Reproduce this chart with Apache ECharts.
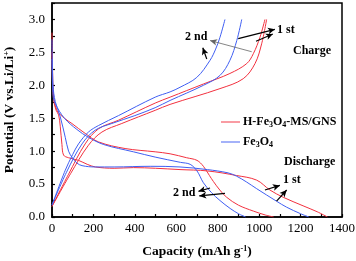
<!DOCTYPE html>
<html><head><meta charset="utf-8">
<script src="https://cdn.jsdelivr.net/npm/echarts@6/dist/echarts.min.js"></script>
<style>html,body{margin:0;padding:0;background:#fff}#c{width:356px;height:261px}</style>
</head><body><div id="c"></div>
<script>
// ---- data ----
const xTicks = [0, 200, 400, 600, 800, 1000, 1200, 1400];
const yTicks = [0.0, 0.5, 1.0, 1.5, 2.0, 2.5, 3.0];
const seriesNames = ['H-Fe3O4-MS/GNS', 'Fe3O4'];

// H-Fe3O4-MS/GNS discharge / charge
const redDis1 = [[0,2.8],[3,2.2],[8,1.78],[20,1.62],[32,1.55],[40,1.37],[48,1.1],[56,0.94],[80,0.9],[128,0.86],[170,0.8],[209,0.76],[300,0.74],[393,0.75],[500,0.74],[618,0.72],[750,0.7],[891,0.63],[988,0.56],[1052,0.41],[1116,0.3],[1212,0.17],[1280,0.08],[1330,0.0]];
const redDis2 = [[0,2.5],[5,1.9],[24,1.62],[60,1.5],[96,1.42],[160,1.27],[225,1.14],[353,1.04],[498,0.99],[570,0.96],[650,0.9],[700,0.86],[731,0.77],[760,0.63],[779,0.54],[810,0.41],[843,0.3],[900,0.18],[972,0.09],[1030,0.03],[1070,0.0]];
const redChg1 = [[0,0.16],[90,0.66],[176,1.09],[241,1.29],[337,1.42],[498,1.62],[570,1.71],[811,1.95],[923,2.1],[980,2.33],[1012,2.63],[1036,3.0]];
const redChg2 = [[0,0.16],[80,0.65],[160,1.11],[225,1.34],[321,1.47],[498,1.73],[570,1.82],[731,2.02],[859,2.18],[940,2.33],[972,2.48],[1004,2.73],[1028,3.0]];
// Fe3O4 discharge / charge
const blueDis1 = [[0,2.7],[5,2.0],[16,1.75],[40,1.52],[64,1.21],[80,1.0],[96,0.91],[120,0.82],[145,0.78],[209,0.76],[300,0.76],[474,0.77],[618,0.76],[750,0.72],[850,0.67],[891,0.62],[940,0.53],[988,0.43],[1084,0.24],[1132,0.15],[1200,0.05],[1240,0.0]];
const blueDis2 = [[0,2.4],[5,1.85],[16,1.72],[60,1.5],[120,1.33],[176,1.21],[250,1.1],[393,0.99],[498,0.91],[620,0.83],[667,0.8],[700,0.7],[731,0.52],[770,0.37],[811,0.25],[860,0.13],[900,0.05],[935,0.0]];
const blueChg1 = [[0,0.18],[70,0.68],[145,1.11],[209,1.32],[289,1.42],[400,1.54],[498,1.66],[570,1.77],[731,2.0],[811,2.15],[859,2.38],[892,2.68],[916,3.0]];
const blueChg2 = [[0,0.18],[64,0.71],[100,0.95],[128,1.11],[176,1.29],[225,1.39],[321,1.54],[498,1.82],[570,1.9],[618,1.97],[699,2.12],[763,2.38],[790,2.55],[811,2.73],[835,3.0]];

// annotation arrows [from, to] in data units
const arrows = [
  [[899,2.71],[1076,2.85],'#000',1.2],
  [[985,2.67],[1066,2.78],'#000',1.2],
  [[964,2.51],[763,2.68],'#666',0.8],
  [[747,2.40],[728,2.57],'#000',1.2],
  [[1028,0.41],[1100,0.48],'#000',1.2],
  [[1084,0.24],[1133,0.41],'#000',1.2],
  [[763,0.44],[707,0.39],'#000',1.2],
  [[835,0.36],[711,0.32],'#000',1.2]
];

const RED = '#f2303e', BLUE = '#3f5ef2';
const FONT = 'Liberation Serif';

function line(name, data, color, extra) {
  return Object.assign({
    type: 'line', name: name, data: data, showSymbol: false, symbol: 'none',
    smooth: 0.35, lineStyle: { color: color, width: 1 }, itemStyle: { color: color },
    animation: false, silent: true
  }, extra || {});
}

const chart = echarts.init(document.getElementById('c'), null, { renderer: 'canvas' });
chart.setOption({
  animation: false,
  grid: { left: 52, right: 14, top: 3, bottom: 44, containLabel: false, outerBoundsMode: 'none',
    show: true, borderColor: '#000', borderWidth: 1.5, backgroundColor: 'transparent' },
  xAxis: {
    type: 'value', min: 0, max: 1400, interval: 100,
    name: 'Capacity (mAh g{sup|-1})', nameLocation: 'middle', nameGap: 28,
    nameTextStyle: { fontFamily: FONT, fontWeight: 'bold', fontSize: 13.5, color: '#000',
      rich: { sup: { fontFamily: FONT, fontWeight: 'bold', fontSize: 8, color: '#000', verticalAlign: 'top', padding: [0,0,6,0] } } },
    axisLine: { show: true, lineStyle: { color: '#000', width: 1.5 } },
    axisTick: { show: true, inside: true, length: 3, lineStyle: { color: '#000', width: 1.2 } },
    axisLabel: { fontFamily: FONT, fontSize: 13, color: '#000', margin: 5,
      formatter: v => (xTicks.indexOf(v) >= 0 ? String(v) : '') },
    splitLine: { show: false }
  },
  yAxis: {
    type: 'value', min: 0, max: 3.25, interval: 0.25,
    name: 'Potential (V vs.Li/Li{sup|+})', nameLocation: 'middle', nameGap: 35, nameRotate: 90,
    nameTextStyle: { fontFamily: FONT, fontWeight: 'bold', fontSize: 13.5, color: '#000',
      rich: { sup: { fontFamily: FONT, fontWeight: 'bold', fontSize: 8, color: '#000', verticalAlign: 'top', padding: [0,0,6,0] } } },
    axisLine: { show: true, lineStyle: { color: '#000', width: 1.5 } },
    axisTick: { show: true, inside: true, length: 3, lineStyle: { color: '#000', width: 1.2 } },
    axisLabel: { fontFamily: FONT, fontSize: 13, color: '#000', margin: 7,
      formatter: v => { const r = Math.round(v * 100) / 100; return yTicks.indexOf(r) >= 0 ? r.toFixed(1) : ''; } },
    splitLine: { show: false }
  },
  legend: {
    data: seriesNames, orient: 'vertical', left: 216, top: 110, itemWidth: 19, itemHeight: 8, itemGap: 6,
    icon: 'path://M0,4L20,4L20,5L0,5Z',
    textStyle: { fontFamily: FONT, fontWeight: 'bold', fontSize: 12, color: '#000', lineHeight: 14, padding: [0,0,0,-2],
      rich: { sub: { fontFamily: FONT, fontWeight: 'bold', fontSize: 8, color: '#000', verticalAlign: 'bottom', lineHeight: 14, padding: [5,0,0,0] } } },
    formatter: n => n.replace(/(\d)/g, '{sub|$1}')
  },
  series: [
    line(seriesNames[0], redDis1, RED, {
      markLine: {
        silent: true, animation: false, symbol: ['none', 'arrow'], symbolSize: [5, 7],
        label: { show: false },
        data: arrows.map(a => [{ coord: a[0], lineStyle: { color: a[2], width: a[3], type: 'solid' } }, { coord: a[1] }])
      }
    }),
    line(seriesNames[0], redDis2, RED),
    line(seriesNames[0], redChg1, RED),
    line(seriesNames[0], redChg2, RED),
    line(seriesNames[1], blueDis1, BLUE),
    line(seriesNames[1], blueDis2, BLUE),
    line(seriesNames[1], blueChg1, BLUE),
    line(seriesNames[1], blueChg2, BLUE)
  ],
  graphic: [
    { type: 'text', left: 293, top: 45, style: { text: 'Charge', fontFamily: FONT, fontWeight: 'bold', fontSize: 12, fill: '#000' } },
    { type: 'text', left: 284, top: 156, style: { text: 'Discharge', fontFamily: FONT, fontWeight: 'bold', fontSize: 12, fill: '#000' } },
    { type: 'text', left: 277, top: 24, style: { text: '1 st', fontFamily: FONT, fontWeight: 'bold', fontSize: 12, fill: '#000' } },
    { type: 'text', left: 185, top: 31, style: { text: '2 nd', fontFamily: FONT, fontWeight: 'bold', fontSize: 12, fill: '#000' } },
    { type: 'text', left: 283, top: 174, style: { text: '1 st', fontFamily: FONT, fontWeight: 'bold', fontSize: 12, fill: '#000' } },
    { type: 'text', left: 173, top: 187, style: { text: '2 nd', fontFamily: FONT, fontWeight: 'bold', fontSize: 12, fill: '#000' } }
  ]
});
</script>
</body></html>
